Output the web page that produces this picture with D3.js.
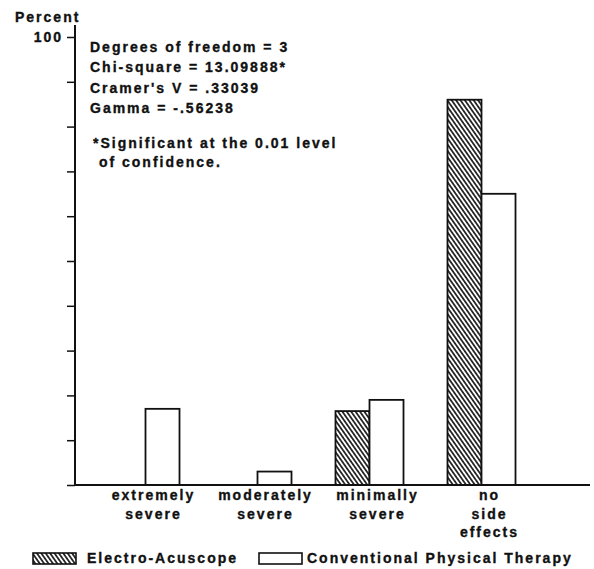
<!DOCTYPE html>
<html>
<head>
<meta charset="utf-8">
<script src="https://cdn.jsdelivr.net/npm/d3@7"></script>
<style>
  html, body { margin: 0; padding: 0; background: #fff; }
  svg { display: block; font-family: 'Liberation Sans', Arial, sans-serif; font-weight: bold; }
  .lbl { fill: #111; stroke: #111; stroke-width: 0.35px; font-size: 14px; letter-spacing: 2px; }
</style>
</head>
<body>
<svg class="chart"></svg>
<script>
const categories = ['extremely severe', 'moderately severe', 'minimally severe', 'no side effects'];
const categoryLines = [['extremely', 'severe'], ['moderately', 'severe'], ['minimally', 'severe'], ['no', 'side', 'effects']];
const seriesNames = ['Electro-Acuscope', 'Conventional Physical Therapy'];
const electroValues = [0, 0, 16.5, 86];
const conventionalValues = [17, 3, 19, 65];
const yTicks = [0, 10, 20, 30, 40, 50, 60, 70, 80, 90, 100];
const yTickLabels = {100: '100'};
const statLines = ['Degrees of freedom = 3', 'Chi-square = 13.09888*', "Cramer's V = .33039", 'Gamma = -.56238'];
const noteLines = ['*Significant at the 0.01 level', ' of confidence.'];

const width = 594;
const height = 569;

const data = categories.map((c, i) => ({
  name: c,
  values: [
    {key: seriesNames[0], value: electroValues[i]},
    {key: seriesNames[1], value: conventionalValues[i]}
  ]
}));

const svg = d3.select('.chart')
  .attr('width', width)
  .attr('height', height);

const defs = svg.append('defs');
const hatch = defs.append('pattern')
  .attr('id', 'hatch')
  .attr('patternUnits', 'userSpaceOnUse')
  .attr('width', 3.6)
  .attr('height', 4)
  .attr('patternTransform', 'rotate(-35)');
hatch.append('rect').attr('width', 3.6).attr('height', 4).attr('fill', '#fff');
hatch.append('line')
  .attr('x1', 0.9).attr('y1', 0).attr('x2', 0.9).attr('y2', 4)
  .attr('stroke', '#1a1a1a').attr('stroke-width', 1.7);

const x = d3.scaleBand().domain(categories).range([89.5, 537.5]).padding(0);
const x1 = d3.scaleBand().domain(seriesNames).range([-34, 34]).padding(0);
const y = d3.scaleLinear().domain([0, 100]).range([485, 37]);
const fills = d3.scaleOrdinal().domain(seriesNames).range(['url(#hatch)', '#fff']);

const axisX = 75;

// y axis
const yAxis = d3.axisLeft(y)
  .tickValues(yTicks)
  .tickSize(8)
  .tickSizeOuter(0)
  .tickFormat(d => yTickLabels[d] || '');

const gy = svg.append('g')
  .attr('transform', 'translate(' + axisX + ',0)')
  .call(yAxis);
gy.select('.domain').remove();
gy.selectAll('.tick line').attr('stroke', '#111').attr('stroke-width', 1.5);
gy.selectAll('.tick text')
  .attr('class', 'lbl')
  .attr('x', -12)
  .attr('font-family', null)
  .attr('font-size', null)
  .attr('fill', null);

svg.append('line')
  .attr('x1', axisX).attr('x2', axisX)
  .attr('y1', y(100) - 12).attr('y2', y(0))
  .attr('stroke', '#111').attr('stroke-width', 2);

svg.append('text')
  .attr('class', 'lbl')
  .attr('x', 15)
  .attr('y', 22)
  .text('Percent');

// bars
const group = svg.selectAll('.grp')
  .data(data)
  .enter().append('g')
  .attr('class', 'grp')
  .attr('transform', d => 'translate(' + (x(d.name) + x.bandwidth() / 2) + ',0)');

group.selectAll('rect')
  .data(d => d.values.filter(v => v.value > 0))
  .enter().append('rect')
  .attr('x', d => x1(d.key))
  .attr('width', x1.bandwidth())
  .attr('y', d => y(d.value))
  .attr('height', d => y(0) - y(d.value))
  .attr('fill', d => fills(d.key))
  .attr('stroke', '#111')
  .attr('stroke-width', 1.8);

// baseline
svg.append('line')
  .attr('x1', axisX).attr('x2', 590)
  .attr('y1', y(0)).attr('y2', y(0))
  .attr('stroke', '#111').attr('stroke-width', 2);

// category labels
const catText = svg.selectAll('.cat')
  .data(categories)
  .enter().append('text')
  .attr('class', 'lbl cat')
  .attr('text-anchor', 'middle')
  .attr('x', d => x(d) + x.bandwidth() / 2 + 8)
  .attr('y', 500);

catText.selectAll('tspan')
  .data((d, i) => categoryLines[i])
  .enter().append('tspan')
  .attr('x', function() { return d3.select(this.parentNode).attr('x'); })
  .attr('dy', (d, i) => i === 0 ? 0 : 18.5)
  .text(d => d);

// statistics box
svg.selectAll('.stat')
  .data(statLines)
  .enter().append('text')
  .attr('class', 'lbl stat')
  .attr('x', 90)
  .attr('y', (d, i) => 52 + i * 20.3)
  .text(d => d);

svg.selectAll('.note')
  .data(noteLines)
  .enter().append('text')
  .attr('class', 'lbl note')
  .attr('x', 93)
  .attr('y', (d, i) => 148 + i * 18.5)
  .attr('xml:space', 'preserve')
  .style('white-space', 'pre')
  .text(d => d);

// legend
const legendItems = [
  {key: seriesNames[0], box: 33, text: 87},
  {key: seriesNames[1], box: 259, text: 307}
];
const legend = svg.selectAll('.legend')
  .data(legendItems)
  .enter().append('g')
  .attr('class', 'legend');

legend.append('rect')
  .attr('x', d => d.box)
  .attr('y', 553)
  .attr('width', 43)
  .attr('height', 11)
  .attr('fill', d => fills(d.key))
  .attr('stroke', '#111')
  .attr('stroke-width', 1.6);

legend.append('text')
  .attr('class', 'lbl')
  .attr('x', d => d.text)
  .attr('y', 563)
  .text(d => d.key);
</script>
</body>
</html>
